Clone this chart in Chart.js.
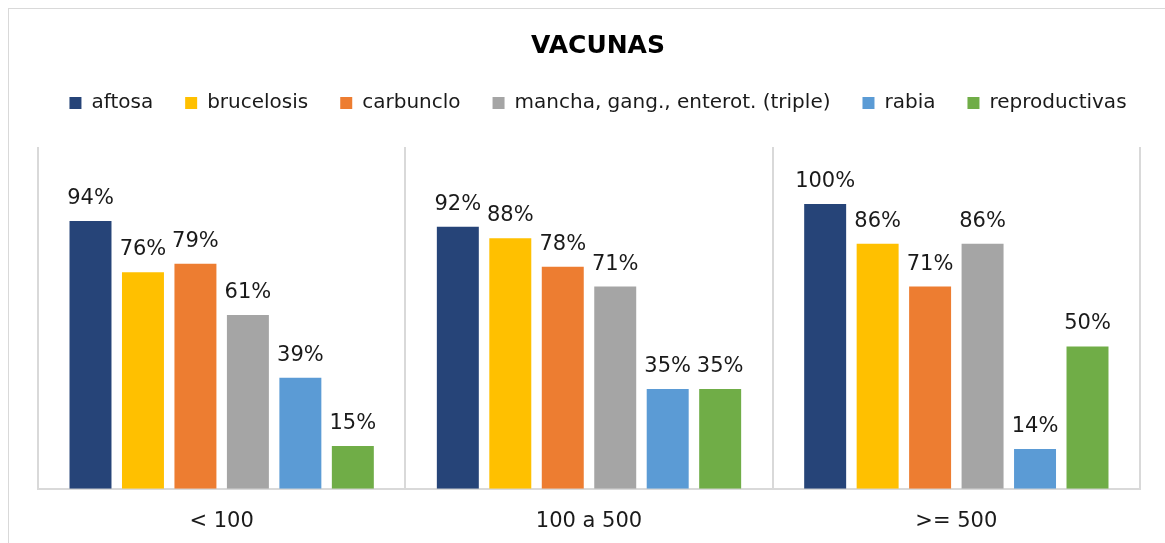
<!DOCTYPE html>
<html>
<head>
<meta charset="utf-8">
<script src="https://cdn.jsdelivr.net/npm/chart.js@4.4.1/dist/chart.umd.min.js"></script>
<style>
  html, body { margin: 0; padding: 0; background: #fff; }
  #wrap { position: relative; width: 1165px; height: 543px; overflow: hidden; }
  #frame { position: absolute; left: 8px; top: 8px; width: 1170px; height: 560px; border: 1px solid #d9d9d9; box-sizing: border-box; }
  canvas { position: absolute; left: 0; top: 0; }
</style>
</head>
<body>
<div id="wrap">
  <div id="frame"></div>
  <canvas id="chart" width="1165" height="543"></canvas>
</div>
<script>
// datos
const categories = ['< 100', '100 a 500', '>= 500'];
const seriesNames = ['aftosa', 'brucelosis', 'carbunclo', 'mancha, gang., enterot. (triple)', 'rabia', 'reproductivas'];
const aftosa = [0.94, 0.92, 1.00];
const brucelosis = [0.76, 0.88, 0.86];
const carbunclo = [0.79, 0.78, 0.71];
const triple = [0.61, 0.71, 0.86];
const rabia = [0.39, 0.35, 0.14];
const reproductivas = [0.15, 0.35, 0.50];
const colors = ['#264478', '#FFC000', '#ED7D31', '#A5A5A5', '#5B9BD5', '#70AD47'];

const values = [aftosa, brucelosis, carbunclo, triple, rabia, reproductivas];
const FONT = '"DejaVu Sans", sans-serif';

// etiquetas sobre las barras
const barLabels = {
  id: 'barLabels',
  afterDatasetsDraw(chart) {
    const ctx = chart.ctx;
    ctx.save();
    ctx.font = '21px ' + FONT;
    ctx.fillStyle = '#1a1a1a';
    ctx.textAlign = 'center';
    ctx.textBaseline = 'alphabetic';
    chart.data.datasets.forEach((ds, i) => {
      chart.getDatasetMeta(i).data.forEach((bar, j) => {
        ctx.fillText(Math.round(ds.data[j] * 100) + '%', bar.x, bar.y - 17);
      });
    });
    ctx.restore();
  }
};

// ajuste del alto de la leyenda
const LEGEND_EXTRA = 24;
const legendGap = {
  id: 'legendGap',
  beforeInit(chart) {
    const fit = chart.legend.fit;
    chart.legend.fit = function () {
      fit.bind(chart.legend)();
      this.height += LEGEND_EXTRA;
    };
  }
};

const fixedWidth = w => ({
  display: true,
  ticks: { display: false },
  grid: { display: false },
  border: { display: false },
  afterFit(s) { s.width = w; }
});

new Chart(document.getElementById('chart'), {
  type: 'bar',
  data: {
    labels: categories,
    datasets: seriesNames.map((name, i) => ({
      label: name,
      data: values[i],
      backgroundColor: colors[i],
      borderWidth: 0,
      categoryPercentage: 0.857,
      barPercentage: 0.8
    }))
  },
  options: {
    responsive: false,
    animation: false,
    layout: { padding: { left: 31, right: 0, top: 0, bottom: -11 } },
    plugins: {
      tooltip: { enabled: false },
      title: {
        display: true,
        text: 'VACUNAS',
        color: '#000',
        font: { family: FONT, size: 25, weight: 'bold' },
        padding: { top: 31, bottom: 0 }
      },
      legend: {
        position: 'top',
        labels: {
          color: '#1a1a1a',
          font: { family: FONT, size: 20 },
          boxWidth: 12,
          boxHeight: 12,
          padding: 32
        }
      }
    },
    scales: {
      x: {
        grid: { color: '#d9d9d9', lineWidth: 2, drawTicks: false, offset: true },
        border: { color: '#d9d9d9', width: 2 },
        ticks: { color: '#1a1a1a', font: { family: FONT, size: 21 }, padding: 20 }
      },
      y: Object.assign(fixedWidth(7), { position: 'left', min: 0, max: 1.2 }),
      y2: Object.assign(fixedWidth(25), { position: 'right', min: 0, max: 1.2 })
    }
  },
  plugins: [barLabels, legendGap]
});
</script>
</body>
</html>
